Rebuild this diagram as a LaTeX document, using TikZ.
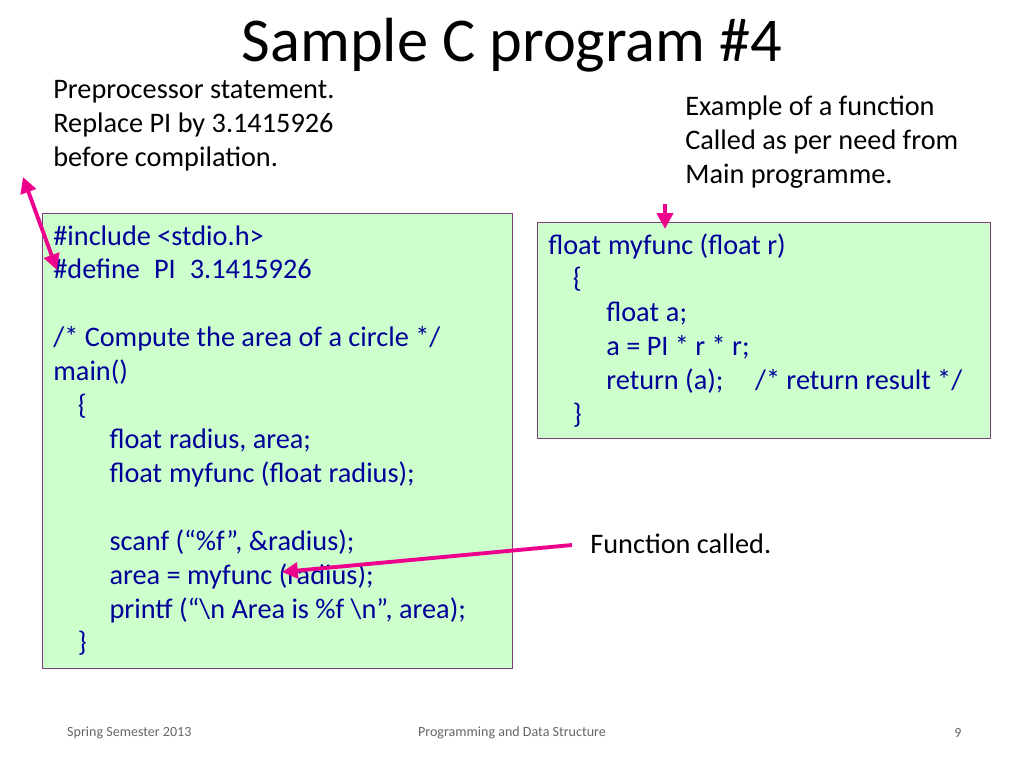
\documentclass[tikz,border=0pt]{standalone}
\usepackage{fontspec}
\setmainfont{Carlito}
\usetikzlibrary{arrows.meta, positioning}
\definecolor{codeblue}{HTML}{000099}
\definecolor{boxfill}{HTML}{CCFFCC}
\definecolor{boxline}{HTML}{7F3F7F}
\tikzset{
  codebox/.style={draw=boxline, fill=boxfill},
  code/.style={anchor=north west, align=left, text=codeblue, font=\fontsize{16.1}{19.3}\selectfont, inner sep=0pt},
  note/.style={anchor=north west, align=left, font=\fontsize{16.1}{19.3}\selectfont, inner sep=0pt},
  foot/.style={text=black!60, font=\fontsize{8}{10}\selectfont},
  pointer/.style={draw=magenta, line width=2.2pt, -{Triangle[length=9pt,width=9pt]}}
}
\newcommand{\ind}[1]{\hspace*{#1pt}}
\begin{document}
\begin{tikzpicture}[x=0.02cm, y=-0.02cm]
  \useasboundingbox (0,0) rectangle (1024,768);
  \node (title) at (512,45) {\fontsize{35.5}{40}\selectfont Sample C program \#4};
  \node[note] (prep) at (53,80) {Preprocessor statement.\\Replace PI by 3.1415926\\before compilation.};
  \node[note] (expl) at (685,96) {Example of a function\\Called as per need from\\Main programme.};

  \draw[codebox] (42,213) rectangle (512,668);
  \draw[codebox] (537,222) rectangle (990,438);

  \node[code] (main) at (53,225) {\#include <stdio.h>\\
\#define\ind{8}PI\ind{8}3.1415926\\
\strut\\
/* Compute the area of a circle */\\
main()\\
\ind{14}\{\\
\ind{32}float\ind{4}radius, area;\\
\ind{32}float\ind{4}myfunc (float radius);\\
\strut\\
\ind{32}scanf (“\%f”, \&radius);\\
\ind{32}area = myfunc (radius);\\
\ind{32}printf (“\textbackslash n Area is \%f \textbackslash n”, area);\\
\ind{14}\}};

  \node[code] (func) at (548,233) {float\ind{4}myfunc (float r)\\
\ind{14}\{\\
\ind{33}float\ind{4}a;\\
\ind{33}a = PI * r * r;\\
\ind{33}return (a);\ind{18}/* return result */\\
\ind{14}\}};

  \node[note] (called) at (590,533) {Function called.};

  \coordinate (pA) at (23,177);
  \coordinate (pB) at (57,270);
  \draw[pointer, {Triangle[length=9pt,width=9pt]}-{Triangle[length=9pt,width=9pt]}] (pA) -- (pB);
  \coordinate (cA) at (572,545);
  \coordinate (cB) at (282,572);
  \draw[pointer] (cA) -- (cB);
  \coordinate (fA) at (665,204);
  \coordinate (fB) at (665,229);
  \draw[pointer] (fA) -- (fB);

  \node[foot, anchor=west] (sem) at (61,733) {Spring Semester 2013};
  \node[foot] (course) at (512,733) {Programming and Data Structure};
  \node[foot] (page) at (958,733) {9};
\end{tikzpicture}
\end{document}
